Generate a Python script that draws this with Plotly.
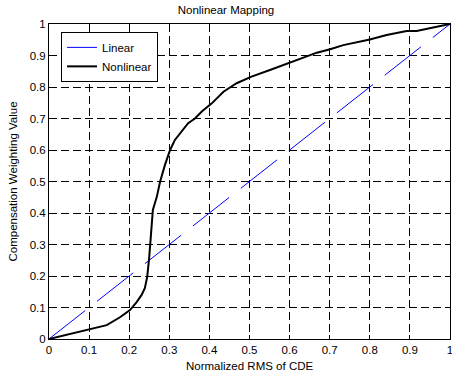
import plotly.graph_objects as go

linear_x = [0.0, 0.1, 0.2, 0.3, 0.4, 0.5, 0.6, 0.7, 0.8, 0.9, 1.0]
linear_y = [0.0, 0.1, 0.2, 0.3, 0.4, 0.5, 0.6, 0.7, 0.8, 0.9, 1.0]

nonlinear_x = [0.0, 0.044, 0.094, 0.115, 0.144, 0.177, 0.202, 0.219, 0.231, 0.239,
               0.245, 0.250, 0.254, 0.256, 0.259, 0.269, 0.277, 0.289, 0.302, 0.314,
               0.331, 0.347, 0.364, 0.381, 0.406, 0.435, 0.468, 0.505, 0.551, 0.601,
               0.626, 0.668, 0.701, 0.734, 0.800, 0.842, 0.892, 0.917, 0.958, 1.0]
nonlinear_y = [0.0, 0.013, 0.029, 0.034, 0.044, 0.069, 0.092, 0.118, 0.140, 0.161,
               0.198, 0.261, 0.335, 0.388, 0.410, 0.452, 0.499, 0.552, 0.600, 0.632,
               0.658, 0.685, 0.700, 0.722, 0.748, 0.785, 0.812, 0.833, 0.854, 0.877,
               0.888, 0.909, 0.920, 0.933, 0.951, 0.965, 0.978, 0.978, 0.989, 1.0]

tick_vals = [0, 0.1, 0.2, 0.3, 0.4, 0.5, 0.6, 0.7, 0.8, 0.9, 1]
tick_text = ["0", "0.1", "0.2", "0.3", "0.4", "0.5", "0.6", "0.7", "0.8", "0.9", "1"]

title_text = "Nonlinear Mapping"
x_title = "Normalized RMS of CDE"
y_title = "Compensation Weighting Value"

FONT = "Liberation Sans, Arial, sans-serif"
FS = 11.5

fig = go.Figure()
fig.add_trace(go.Scatter(x=linear_x, y=linear_y, mode="lines", name="Linear",
                         line=dict(color="#0000ff", width=1, dash="46px,15px")))
fig.add_trace(go.Scatter(x=nonlinear_x, y=nonlinear_y, mode="lines", name="Nonlinear",
                         line=dict(color="black", width=2)))

axis_common = dict(
    range=[0, 1], tickvals=tick_vals, ticktext=tick_text,
    ticks="inside", ticklen=4, tickcolor="black", tickwidth=1,
    showline=True, linecolor="black", linewidth=1, mirror="ticks",
    showgrid=True, gridcolor="black", gridwidth=1, griddash="8px,4px",
    zeroline=False, tickfont=dict(family=FONT, size=FS, color="black"),
    ticklabeloverflow="allow", automargin=False,
)

fig.update_layout(
    width=452, height=377,
    margin=dict(l=49, r=2, t=24, b=38),
    paper_bgcolor="white", plot_bgcolor="white",
    font=dict(family=FONT, size=FS, color="black"),
    title=dict(text=title_text, x=0.5, xanchor="center", y=0.974, yanchor="middle",
               font=dict(family=FONT, size=FS, color="black")),
    xaxis=axis_common,
    yaxis=axis_common,
    legend=dict(x=0.03, y=0.975, xanchor="left", yanchor="top",
                bgcolor="white", bordercolor="black", borderwidth=1,
                font=dict(family=FONT, size=FS, color="black"),
                tracegroupgap=0, itemwidth=30),
    showlegend=True,
    annotations=[
        dict(text=x_title, xref="paper", yref="paper", x=0.5, y=-0.0857,
             xanchor="center", yanchor="middle", showarrow=False,
             font=dict(family=FONT, size=FS, color="black")),
        dict(text=y_title, xref="paper", yref="paper", x=-0.0898, y=0.5,
             xanchor="center", yanchor="middle", showarrow=False, textangle=-90,
             font=dict(family=FONT, size=FS, color="black")),
    ],
)

fig.write_html("out.html")
